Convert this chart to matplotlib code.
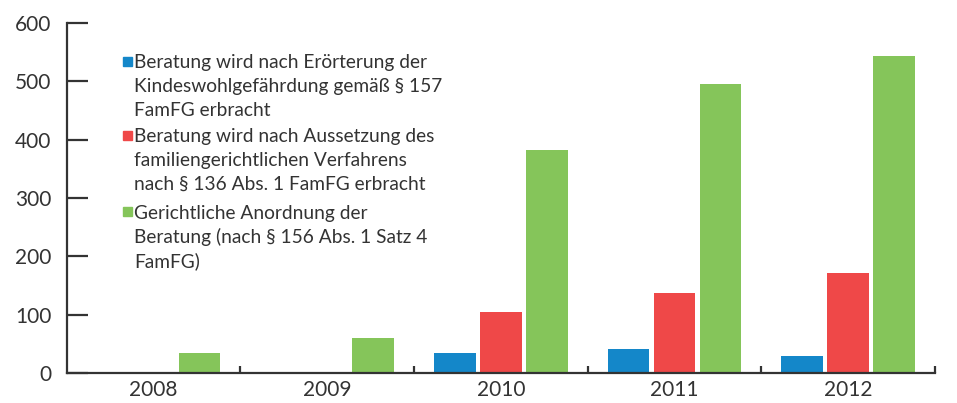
import matplotlib
matplotlib.use("Agg")
import matplotlib.pyplot as plt
import numpy as np

plt.rcParams['font.family'] = ['Lato', 'DejaVu Sans']

# data
years = ["2008", "2009", "2010", "2011", "2012"]
eroerterung = [0, 0, 35, 41, 30]       # § 157 FamFG
aussetzung = [0, 0, 104, 138, 171]     # § 136 Abs. 1 FamFG
anordnung = [34, 60, 383, 495, 543]    # § 156 Abs. 1 Satz 4 FamFG

legend_lines = [
    ["Beratung wird nach Erörterung der",
     "Kindeswohlgefährdung gemäß § 157",
     "FamFG erbracht"],
    ["Beratung wird nach Aussetzung des",
     "familiengerichtlichen Verfahrens",
     "nach § 136 Abs. 1 FamFG erbracht"],
    ["Gerichtliche Anordnung der",
     "Beratung (nach § 156 Abs. 1 Satz 4",
     "FamFG)"],
]
colors = ["#1487c9", "#ef4848", "#85c55a"]
txt = "#333333"

W, H = 957, 403
fig = plt.figure(figsize=(W / 100, H / 100), dpi=100)
ax = fig.add_axes([66.7 / W, 1 - 373 / H, (935 - 66.7) / W, 350 / H])

x = np.arange(len(years))
bw = 0.24
step = 0.265
for i, (vals, c) in enumerate(zip([eroerterung, aussetzung, anordnung], colors)):
    ax.bar(x + (i - 1) * step, vals, width=bw, color=c, linewidth=0)

ax.set_xlim(-0.5, len(years) - 0.5)
ax.set_ylim(0, 600)
ax.set_yticks(range(0, 601, 100))
ax.set_xticks(x)
ax.set_xticklabels(years)
ax.set_xticks(np.arange(0.5, len(years)), minor=True)

for s in ["top", "right"]:
    ax.spines[s].set_visible(False)
for s in ["left", "bottom"]:
    ax.spines[s].set_color(txt)
    ax.spines[s].set_linewidth(1.6)

ax.tick_params(axis="y", direction="in", length=15, width=1.6, color=txt,
               labelsize=15, labelcolor=txt, pad=11)
ax.tick_params(axis="x", which="major", length=0, labelsize=15,
               labelcolor=txt, pad=5)
ax.tick_params(axis="x", which="minor", direction="in", length=5,
               width=1.6, color=txt)

# legend drawn by hand, square next to first line of each entry
baselines = [[68, 92, 116], [142, 166, 190], [219, 243, 267]]
square_tops = [57, 131, 207]
for lines, bl, sq, c in zip(legend_lines, baselines, square_tops, colors):
    fig.patches.append(plt.Rectangle((123 / W, 1 - (sq + 9) / H), 9 / W, 9 / H,
                                     transform=fig.transFigure, color=c))
    for line, b in zip(lines, bl):
        fig.text(134 / W, 1 - b / H, line, fontsize=13.8, color=txt,
                 va="baseline", ha="left")

fig.savefig("out.png", dpi=100)
